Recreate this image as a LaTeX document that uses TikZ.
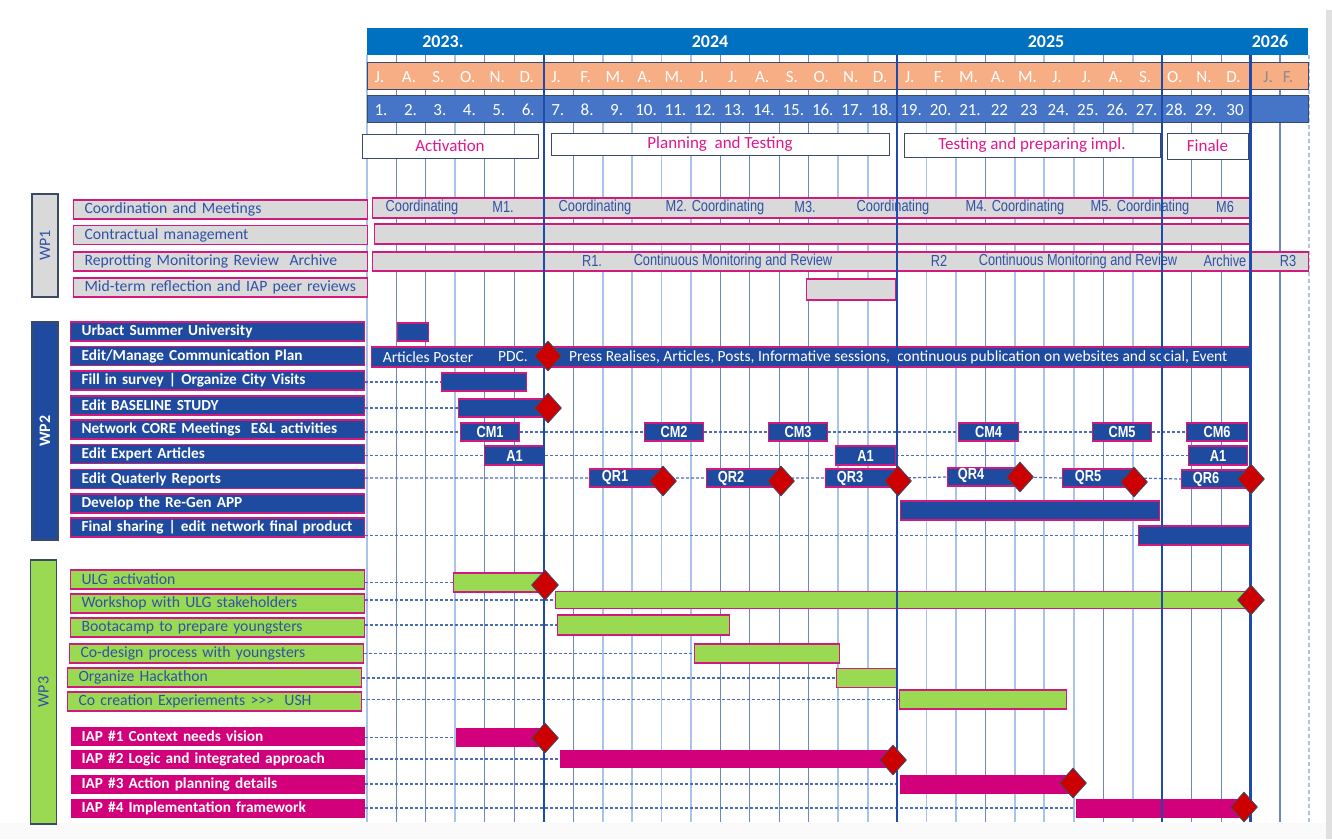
\documentclass[tikz,border=0pt]{standalone}
\usepackage{fontspec}
\setmainfont{Carlito}
\newfontfamily\barfont[FakeStretch=0.8]{Liberation Sans}
\usetikzlibrary{shapes.geometric}

\definecolor{yearc}{HTML}{0070C0}
\definecolor{monthc}{HTML}{F8AE84}
\definecolor{numc}{HTML}{4675C8}
\definecolor{navyc}{HTML}{1E4BA0}
\definecolor{pinkc}{HTML}{D01A7E}
\definecolor{iapc}{HTML}{D3007B}
\definecolor{greenc}{HTML}{9AD952}
\definecolor{grayc}{HTML}{D9D9D9}
\definecolor{bluec}{HTML}{2F52A6}
\definecolor{phasec}{HTML}{E0188C}
\definecolor{gridc}{HTML}{6B88C0}
\definecolor{gridlc}{HTML}{A9C3EA}
\definecolor{sepc}{HTML}{1F4AAA}
\definecolor{redc}{HTML}{CC0000}
\definecolor{edgec}{HTML}{3B4A66}
\definecolor{dashc}{HTML}{4B6DB3}

\begin{document}
\begin{tikzpicture}[
    x=1pt, y=-1pt,
    grid/.style={draw=gridc, line width=1.1},
    gridlight/.style={draw=gridlc, line width=1.8},
    sepline/.style={draw=sepc, line width=2.4},
    hdr/.style={anchor=west, minimum width=941, minimum height=27, inner sep=0, draw=edgec, line width=0.6},
    hdrtext/.style={text=white, inner sep=0, anchor=base, font=\fontsize{17}{18}\selectfont},
    yeartext/.style={text=white, inner sep=0, font=\fontsize{18}{20}\selectfont\bfseries},
    phase/.style={draw=edgec, fill=white, line width=1, inner sep=0, text=phasec, font=\fontsize{17}{18}\selectfont},
    lbl/.style={anchor=west, minimum height=19, text width=272, inner xsep=11, inner ysep=0, align=left, line width=1.1, font=\fontsize{15.7}{16}\selectfont},
    wpone/.style={lbl, fill=grayc, draw=pinkc, text=bluec},
    wptwo/.style={lbl, fill=navyc, draw=pinkc, text=white, font=\fontsize{15.3}{16}\selectfont\bfseries},
    wpthree/.style={lbl, fill=greenc, draw=pinkc, text=bluec},
    iap/.style={lbl, fill=iapc, text=white, font=\fontsize{15.3}{16}\selectfont\bfseries},
    wpbox/.style={rotate=90, draw=edgec, line width=1.2, inner sep=0, minimum height=26, font=\fontsize{16}{18}\selectfont},
    task/.style={anchor=west, minimum height=19, inner sep=0, line width=1.1, draw=pinkc},
    graybar/.style={task, fill=grayc},
    navybar/.style={task, fill=navyc},
    greenbar/.style={task, fill=greenc},
    iapbar/.style={task, fill=iapc, draw=none},
    tag/.style={navybar, minimum height=18, text=white, font=\barfont\fontsize{16}{17}\selectfont\bfseries},
    tagtext/.style={text=white, inner sep=0, font=\barfont\fontsize{16}{17}\selectfont\bfseries},
    bartext/.style={text=bluec, inner sep=0, font=\barfont\fontsize{16}{17}\selectfont},
    commtext/.style={text=white, inner sep=0, font=\fontsize{15.5}{16}\selectfont},
    milestone/.style={diamond, fill=redc, draw=edgec, line width=0.8, minimum width=27, minimum height=30, inner sep=0},
    link/.style={draw=dashc, line width=1.2, dash pattern=on 3pt off 2pt}
]

\fill[white] (0,0) rectangle (1332,839);
\useasboundingbox (0,0) rectangle (1332,839);
\fill[black!12] (1326,10) rectangle (1332,839);
\fill[black!2] (0,823) rectangle (1326,839);

% grid of months
\foreach \i in {1,2,4,5,7,12,13,14,15,18,21,25,27,28,29,30,31}
    \draw[grid] ({367+29.45*\i},55) -- ({367+29.45*\i},822);
\foreach \i in {0,3,8,9,10,11,16,17,19,20,22,23,24,26}
    \draw[gridlight] ({367+29.45*\i},55) -- ({367+29.45*\i},822);
\draw[gridlight, line width=1.1, dash pattern=on 4pt off 3pt] (1309,55) -- (1309,822);

% header
\node[hdr, fill=yearc, draw=none] (years) at (367,41.5) {};
\node[hdr, fill=monthc] (months) at (367,75.5) {};
\node[hdr, fill=numc] (numbers) at (367,109) {};
\node[yeartext] (y23) at (443,41.5) {2023.};
\node[yeartext] (y24) at (710,41.5) {2024};
\node[yeartext] (y25) at (1046,41.5) {2025};
\node[yeartext] (y26) at (1270,41.5) {2026};
\foreach \m [count=\i from 0] in {J.,A.,S.,O.,N.,D.,J.,F.,M.,A.,M.,J.,J.,A.,S.,O.,N.,D.,J.,F.,M.,A.,M.,J.,J.,A.,S.,O.,N.,D.}
    \node[hdrtext] (m\i) at ({367+29.45*\i+12.5},82) {\m};
\node[hdrtext, text=black!45] (m30) at (1268,82) {J.};
\node[hdrtext, text=black!45] (m31) at (1288,82) {F.};
\foreach \n [count=\i from 0] in {1.,2.,3.,4.,5.,6.,7.,8.,9.,10.,11.,12.,13.,14.,15.,16.,17.,18.,19.,20.,21.,22,23,24.,25.,26.,27.,28.,29.,30}
    \node[hdrtext] (n\i) at ({367+29.45*\i+14},115.5) {\n};

% phases
\node[phase, minimum width=176, minimum height=24] (activation) at (450,146) {Activation};
\node[phase, minimum width=338, minimum height=22] (planning) at (720,144) {Planning\ \ and Testing};
\node[phase, minimum width=256, minimum height=24] (testing) at (1032,145) {Testing and preparing impl.};
\node[phase, minimum width=81, minimum height=26] (finale) at (1207.5,146) {Finale};

% work packages
\node[wpbox, fill=grayc, text=bluec, minimum width=103] (wp1) at (45,245.5) {WP1};
\node[wpbox, fill=navyc, text=white, minimum width=218, font=\fontsize{16}{18}\selectfont\bfseries] (wp2) at (45,431) {WP2};
\node[wpbox, fill=greenc, text=bluec, minimum width=264] (wp3) at (43.5,692) {WP3};

% WP1
\node[wpone] (lcoord) at (73,209.5) {Coordination and Meetings};
\node[wpone] (lcontr) at (73,235) {Contractual management};
\node[wpone] (lrep) at (73,261.5) {Reprotting Monitoring Review\ \ Archive};
\node[wpone] (lmid) at (73,287.5) {Mid-term reflection and IAP peer reviews};

\node[graybar, minimum width=878, minimum height=20] (coordbar) at (372,208) {};
\node[graybar, minimum width=876, minimum height=20] (contrbar) at (374,234) {};
\node[graybar, minimum width=936] (repbar) at (372,261.5) {};
\node[graybar, minimum width=89, minimum height=21] (midbar) at (806,289.5) {};
\foreach \t/\x [count=\k] in {Coordinating/422, M1./503, Coordinating/595, M2. Coordinating/715, M3./805, Coordinating/893, M4. Coordinating/1015, M5. Coordinating/1140, M6/1225}
    \node[bartext] (coordtxt\k) at (\x,207) {\t};
\foreach \t/\x [count=\k] in {R1./592, Continuous Monitoring and Review/733, R2/939, Continuous Monitoring and Review/1078, Archive/1225, R3/1288}
    \node[bartext] (reptxt\k) at (\x,261) {\t};

% WP2
\node[wptwo] (lusu) at (70,331.5) {Urbact Summer University};
\node[wptwo] (lcomm) at (70,356) {Edit/Manage Communication Plan};
\node[wptwo] (lfill) at (70,380.5) {Fill in survey | Organize City Visits};
\node[wptwo] (lbase) at (70,405.5) {Edit BASELINE STUDY};
\node[wptwo] (lcore) at (70,429.5) {Network CORE Meetings\ \ E\&L activities};
\node[wptwo] (lexp) at (70,454) {Edit Expert Articles};
\node[wptwo] (lqr) at (70,479) {Edit Quaterly Reports};
\node[wptwo] (lapp) at (70,503.5) {Develop the Re-Gen APP};
\node[wptwo] (lfin) at (70,527.5) {Final sharing | edit network final product};

\node[navybar, minimum width=31, minimum height=18] (usubar) at (397,332) {};
\node[navybar, minimum width=879, minimum height=20] (commbar) at (371,357) {};
\node[commtext] (commt1) at (428,357) {Articles Poster};
\node[commtext] (commt2) at (513,357) {PDC.};
\node[commtext, anchor=west] (commt3) at (569,357) {Press Realises, Articles, Posts, Informative sessions,\ \ continuous publication on websites and social, Event};
\node[navybar, minimum width=85, minimum height=18] (surveybar) at (441,382) {};
\node[navybar, minimum width=87, minimum height=18] (basebar) at (458,408) {};

\node[tag, minimum width=59] (cm1) at (460,432) {CM1};
\node[tag, minimum width=59] (cm2) at (644,432) {CM2};
\node[tag, minimum width=59] (cm3) at (768,432) {CM3};
\node[tag, minimum width=60] (cm4) at (958,432) {CM4};
\node[tag, minimum width=59] (cm5) at (1092,432) {CM5};
\node[tag, minimum width=61] (cm6) at (1186,432) {CM6};

\node[tag, minimum width=60, minimum height=19] (aa1) at (484,455.5) {A1};
\node[tag, minimum width=60, minimum height=19] (aa2) at (835,455.5) {A1};
\node[tag, minimum width=59, minimum height=19] (aa3) at (1188,455.5) {A1};

\node[tag, minimum width=71] (qr1) at (589,478) {};
\node[tag, minimum width=74] (qr2) at (706,478) {};
\node[tag, minimum width=72] (qr3) at (825,478) {};
\node[tag, minimum width=71] (qr4) at (947,477) {};
\node[tag, minimum width=71] (qr5) at (1062,478) {};
\node[tag, minimum width=69] (qr6) at (1181,479) {};
\node[tagtext] (qr1t) at (615,477) {QR1};
\node[tagtext] (qr2t) at (731,478) {QR2};
\node[tagtext] (qr3t) at (850,478) {QR3};
\node[tagtext] (qr4t) at (971,475) {QR4};
\node[tagtext] (qr5t) at (1088,477) {QR5};
\node[tagtext] (qr6t) at (1206,479) {QR6};

\node[navybar, minimum width=259] (appbar) at (900,510.5) {};
\node[navybar, minimum width=111] (finalbar) at (1138,535.5) {};

\draw[link] (lfill.east |- surveybar.west) -- (surveybar.west);
\draw[link] (lbase.east |- basebar.west) -- (basebar.west);
\draw[link] (lcore.east |- cm1.west) -- (cm1.west) (cm1.east) -- (cm2.west) (cm2.east) -- (cm3.west)
    (cm3.east) -- (cm4.west) (cm4.east) -- (cm5.west) (cm5.east) -- (cm6.west);
\draw[link] (lexp.east |- aa1.west) -- (aa1.west) (aa1.east) -- (aa2.west) (aa2.east) -- (aa3.west);
\draw[link] (lqr.east |- qr1.west) -- (qr1.west) (qr1.east) -- (qr2.west) (qr2.east) -- (qr3.west)
    (qr3.east) -- (qr4.west) (qr4.east) -- (qr5.west) (qr5.east) -- (qr6.west);
\draw[link] (lfin.east |- finalbar.west) -- (finalbar.west);

% WP3
\node[wpthree] (lulg) at (70,579.5) {ULG activation};
\node[wpthree] (lws) at (70,603.5) {Workshop with ULG stakeholders};
\node[wpthree] (lboot) at (70,627.5) {Bootacamp to prepare youngsters};
\node[wpthree] (lcod) at (69,653.5) {Co-design process with youngsters};
\node[wpthree] (lhack) at (67,677.5) {Organize Hackathon};
\node[wpthree] (lcoc) at (67,701.5) {Co creation Experiements >{}>{}>\ \ USH};
\node[iap] (liap1) at (70,736) {IAP \#1 Context needs vision};
\node[iap] (liap2) at (70,759.5) {IAP \#2 Logic and integrated approach};
\node[iap] (liap3) at (70,784) {IAP \#3 Action planning details};
\node[iap] (liap4) at (70,808.5) {IAP \#4 Implementation framework};

\node[greenbar, minimum width=92] (ulgbar) at (453,582.5) {};
\node[greenbar, minimum width=695, minimum height=17] (wsbar) at (555,600) {};
\node[greenbar, minimum width=172, minimum height=20] (bootbar) at (557,625) {};
\node[greenbar, minimum width=145] (codbar) at (694,653.5) {};
\node[greenbar, minimum width=60] (hackbar) at (836,678) {};
\node[greenbar, minimum width=167] (cocbar) at (899,699.5) {};
\node[iapbar, minimum width=90] (iap1bar) at (455,737.5) {};
\node[iapbar, minimum width=330, minimum height=18] (iap2bar) at (559,759) {};
\node[iapbar, minimum width=174] (iap3bar) at (899,784) {};
\node[iapbar, minimum width=170] (iap4bar) at (1075,808) {};

\foreach \a/\b in {lulg/ulgbar, lws/wsbar, lboot/bootbar, lcod/codbar, lhack/hackbar, lcoc/cocbar, liap1/iap1bar, liap2/iap2bar, liap3/iap3bar, liap4/iap4bar}
    \draw[link] (\a.east |- \b.west) -- (\b.west);

% phase borders
\foreach \i in {6,18,27,30}
    \draw[sepline] ({367+29.45*\i},55) -- ({367+29.45*\i},822);

% milestones
\foreach \x/\y [count=\k] in {548/356, 548/408, 663/481, 781/481, 898/481, 1020/477, 1134/482, 1251/479, 545/585, 1251/600, 545/738, 893/760, 1073/783, 1244/807}
    \node[milestone] (ms\k) at (\x,\y) {};

\end{tikzpicture}
\end{document}
